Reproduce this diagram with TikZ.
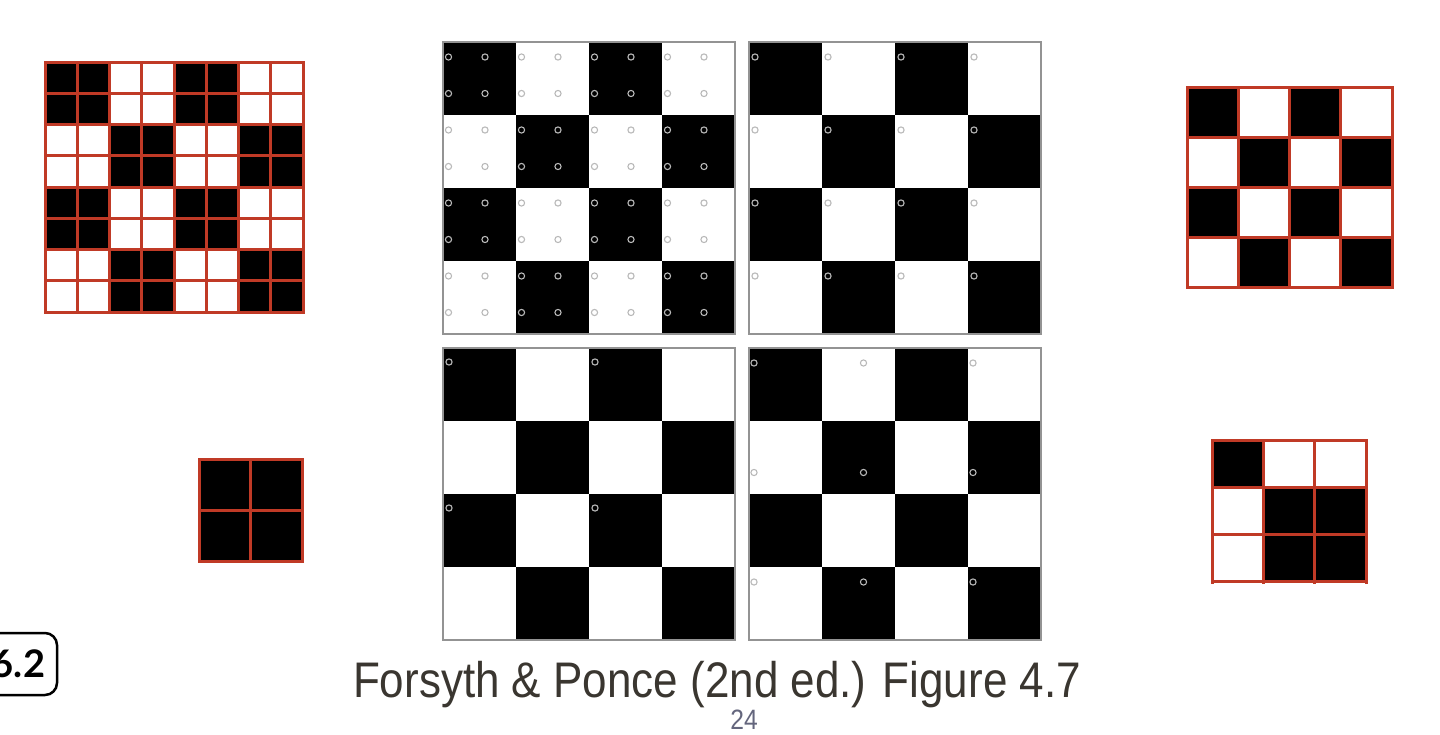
\documentclass[tikz,border=0pt]{standalone}
\usepackage{graphicx}
\usepackage{fontspec}
\setmainfont{Liberation Sans}
\newfontfamily\labelfont{Lato}
\definecolor{gridred}{RGB}{192,58,38}
\definecolor{captiongray}{RGB}{58,54,48}
\definecolor{pagegray}{RGB}{100,102,125}
\tikzset{
  redgrid/.style={draw=gridred, line width=3pt, line cap=rect},
  panelframe/.style={draw=gray!85, line width=1.4pt},
  ring/.style={draw=gray!55, line width=1.1pt},
}

\begin{document}
\begin{tikzpicture}[x=1pt,y=-1pt]
\useasboundingbox (0,0) rectangle (1440,734);

% Left: 8x8 image
\foreach \r in {0,...,7}{
  \foreach \c in {0,...,7}{
    \pgfmathtruncatemacro{\k}{mod(int(\r/2)+int(\c/2),2)}
    \ifnum\k=0 \fill (45+32.25*\c,62+31.25*\r) rectangle ++(32.25,31.25); \fi
  }
}
\foreach \i in {0,...,8}{
  \draw[redgrid] (45+32.25*\i,62) -- (45+32.25*\i,312);
  \draw[redgrid] (45,62+31.25*\i) -- (303,62+31.25*\i);
}

% Left: 2x2 image
\fill (199,459) rectangle (302,561);
\foreach \i in {0,1,2}{
  \draw[redgrid] (199+51.5*\i,459) -- (199+51.5*\i,561);
  \draw[redgrid] (199,459+51*\i) -- (302,459+51*\i);
}

% Right: 4x4 image
\foreach \r in {0,...,3}{
  \foreach \c in {0,...,3}{
    \pgfmathtruncatemacro{\k}{mod(\r+\c,2)}
    \ifnum\k=0 \fill (1187+51.25*\c,87+50*\r) rectangle ++(51.25,50); \fi
  }
}
\foreach \i in {0,...,4}{
  \draw[redgrid] (1187+51.25*\i,87) -- (1187+51.25*\i,287);
  \draw[redgrid] (1187,87+50*\i) -- (1392,87+50*\i);
}

% Right: 3x3 image
\fill (1212,440) rectangle ++(51.33,47.33);
\fill (1263.33,487.33) rectangle (1366,582);
\foreach \i in {0,...,3}{
  \draw[redgrid] (1212+51.33*\i,440) -- (1212+51.33*\i,582);
  \draw[redgrid] (1212,440+47.33*\i) -- (1366,440+47.33*\i);
}

% Middle: four checkerboards
\foreach \px/\py in {443/42,749/42,443/348,749/348}{
  \foreach \r in {0,...,3}{
    \foreach \c in {0,...,3}{
      \pgfmathtruncatemacro{\k}{mod(\r+\c,2)}
      \ifnum\k=0 \fill (\px+73*\c,\py+73*\r) rectangle ++(73,73); \fi
    }
  }
  \draw[panelframe] (\px,\py) rectangle ++(292,292);
}

% Sample points
\foreach \i in {0,...,7}
  \foreach \j in {0,...,7}
    \draw[ring] (448.5+36.5*\i,57+36.5*\j) circle[radius=3.1pt];
\foreach \i in {0,...,3}
  \foreach \j in {0,...,3}
    \draw[ring] (755+73*\i,57+73*\j) circle[radius=3.1pt];
\foreach \i in {0,1}
  \foreach \j in {0,1}
    \draw[ring] (449+146*\i,362+146*\j) circle[radius=3.1pt];
\foreach \i in {0,1,2}
  \foreach \j in {0,1,2}
    \draw[ring] (754+109.5*\i,363+109.5*\j) circle[radius=3.1pt];

% Text
\node[anchor=base, text=captiongray, font=\fontsize{50}{60}\selectfont] (caption) at (717,697)
  {\scalebox{0.88}[1]{Forsyth \& Ponce (2nd ed.) Figure 4.7}};
\node[anchor=base, text=pagegray, font=\fontsize{28}{34}\selectfont] (pagenum) at (744,729)
  {\scalebox{0.88}[1]{24}};
\node[draw, rounded corners=12pt, line width=2.5pt, minimum width=77pt, minimum height=62pt,
  inner sep=0pt, font=\labelfont\bfseries\fontsize{38}{40}\selectfont] (secbox) at (18.5,664) {6.2};

\end{tikzpicture}
\end{document}
